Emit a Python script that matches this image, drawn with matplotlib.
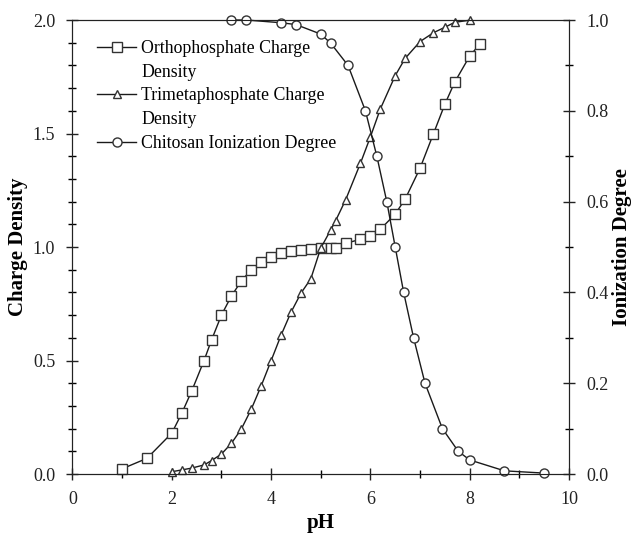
import numpy as np
import matplotlib
matplotlib.use('Agg')
import matplotlib.pyplot as plt
from matplotlib.lines import Line2D
from matplotlib.ticker import MultipleLocator

plt.rcParams['font.family'] = ['Liberation Serif', 'DejaVu Serif']

# orthophosphate charge density (left axis)
ortho_ph = [1.0, 1.5, 2.0, 2.2, 2.4, 2.65, 2.8, 3.0, 3.2, 3.4, 3.6, 3.8, 4.0, 4.2, 4.4,
            4.6, 4.8, 5.0, 5.2, 5.3, 5.5, 5.8, 6.0, 6.2, 6.5, 6.7, 7.0, 7.27, 7.5, 7.7, 8.0, 8.2]
ortho_cd = [0.023, 0.069, 0.18, 0.267, 0.365, 0.50, 0.59, 0.70, 0.784, 0.85, 0.90, 0.934,
            0.956, 0.972, 0.982, 0.988, 0.991, 0.994, 0.995, 0.997, 1.016, 1.034, 1.048,
            1.078, 1.145, 1.211, 1.347, 1.499, 1.629, 1.727, 1.841, 1.893]

# trimetaphosphate charge density (left axis)
tri_ph = [2.0, 2.2, 2.4, 2.65, 2.8, 3.0, 3.2, 3.4, 3.6, 3.8, 4.0, 4.2, 4.4, 4.6, 4.8, 5.0,
          5.2, 5.3, 5.5, 5.8, 6.0, 6.2, 6.5, 6.7, 7.0, 7.27, 7.5, 7.7, 8.0]
tri_cd = [0.010, 0.018, 0.026, 0.040, 0.059, 0.088, 0.135, 0.198, 0.285, 0.388, 0.499,
          0.611, 0.712, 0.796, 0.860, 0.995, 1.075, 1.116, 1.207, 1.369, 1.485, 1.608,
          1.755, 1.831, 1.905, 1.944, 1.968, 1.99, 1.999]

# chitosan ionization degree (right axis)
chi_ph = [3.2, 3.5, 4.2, 4.5, 5.0, 5.2, 5.55, 5.9, 6.13, 6.33, 6.5, 6.67, 6.87, 7.1,
          7.45, 7.77, 8.0, 8.7, 9.5]
chi_deg = [1.0, 1.0, 0.994, 0.99, 0.969, 0.949, 0.90, 0.80, 0.70, 0.60, 0.50, 0.40,
           0.30, 0.20, 0.10, 0.05, 0.031, 0.007, 0.002]

legend_lines = ['Orthophosphate Charge', 'Density', 'Trimetaphosphate Charge', 'Density',
                'Chitosan Ionization Degree']

fig = plt.figure(figsize=(6.32, 5.35), dpi=100)
ax = fig.add_axes([0.1147, 0.114, 0.7856, 0.8486])
ax2 = ax.twinx()

lc = '#1a1a1a'
mc = '#333333'
l1, = ax.plot(ortho_ph, ortho_cd, color=lc, lw=1, marker='s', ms=7, mfc='white',
              mec=mc, mew=1, clip_on=False)
l2, = ax.plot(tri_ph, tri_cd, color=lc, lw=1, marker='^', ms=6, mfc='white',
              mec=mc, mew=1, clip_on=False)
l3, = ax2.plot(chi_ph, chi_deg, color=lc, lw=1, marker='o', ms=6.5, mfc='white',
               mec=mc, mew=1, clip_on=False)

ax.set_xlim(0, 10)
ax.set_ylim(0, 2.0)
ax2.set_ylim(0, 1.0)

ax.xaxis.set_major_locator(MultipleLocator(2))
ax.xaxis.set_minor_locator(MultipleLocator(1))
ax.yaxis.set_major_locator(MultipleLocator(0.5))
ax.yaxis.set_minor_locator(MultipleLocator(0.1))
ax2.yaxis.set_major_locator(MultipleLocator(0.2))
ax2.yaxis.set_minor_locator(MultipleLocator(0.1))
ax.yaxis.set_major_formatter(plt.FormatStrFormatter('%.1f'))
ax2.yaxis.set_major_formatter(plt.FormatStrFormatter('%.1f'))

for a in (ax, ax2):
    a.tick_params(which='major', direction='inout', length=9, width=1, labelsize=13,
                  colors='#222222')
    a.tick_params(which='minor', direction='inout', length=6, width=1)
    for s in a.spines.values():
        s.set_color('#222222')
ax.tick_params(axis='x', which='major', pad=8)
ax.tick_params(axis='y', which='major', pad=8)
ax2.tick_params(axis='y', which='major', pad=8)

ax.set_xlabel('pH', fontsize=15, fontweight='bold', labelpad=3)
ax.set_ylabel('Charge Density', fontsize=15, fontweight='bold', labelpad=3)
ax2.set_ylabel('Ionization Degree', fontsize=15, fontweight='bold', rotation=90, labelpad=2.5)

blank = Line2D([], [], linestyle='none', marker='none')
ax.legend(handles=[l1, blank, l2, blank, l3], labels=legend_lines, loc='upper left',
          bbox_to_anchor=(0.035, 0.972), frameon=False, fontsize=12.8, handlelength=2.2,
          handletextpad=0.3, labelspacing=0.38, borderaxespad=0)

plt.savefig('out.png', dpi=100)
